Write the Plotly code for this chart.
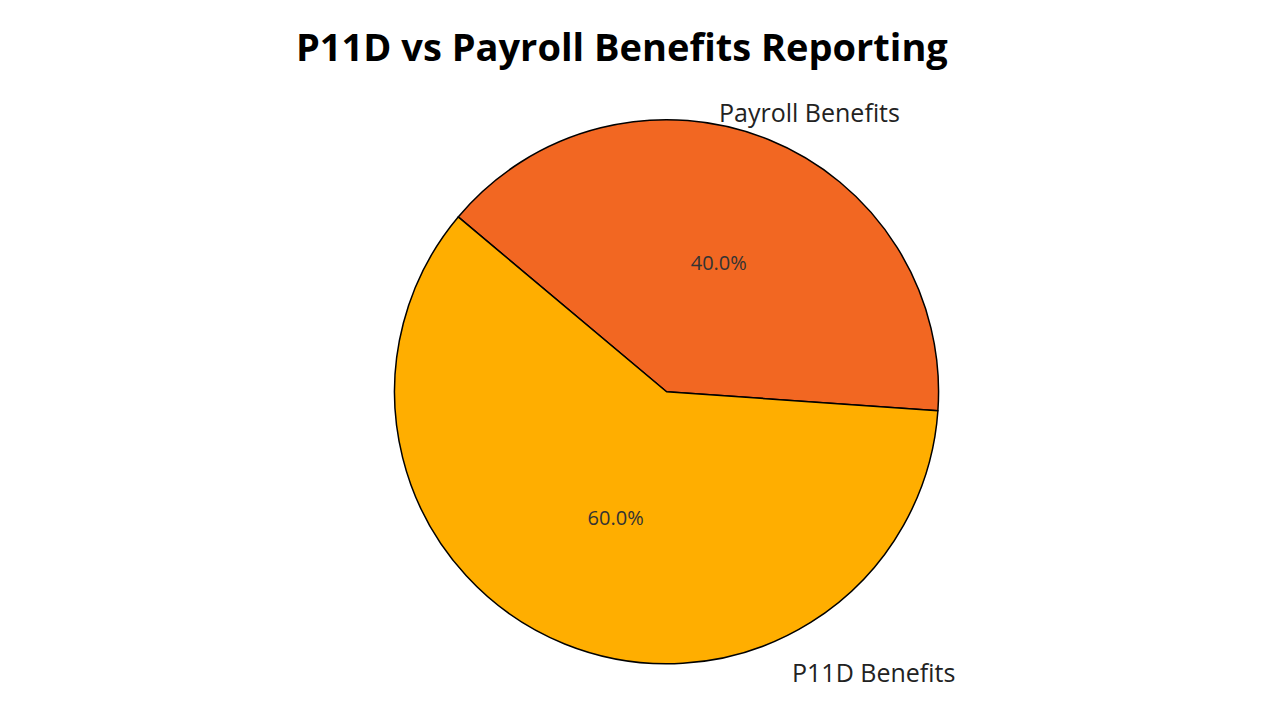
import plotly.graph_objects as go

labels = ["Payroll Benefits", "P11D Benefits"]
values = [40, 60]
colors = ["#F26722", "#FFAE00"]

dom = dict(x=[0.302, 0.727], y=[0.089, 0.845])
W, H = 1280, 720

def px(x, y):
    return dict(x=x / W, y=1 - y / H, xref="paper", yref="paper")

fig = go.Figure()
fig.add_trace(go.Pie(
    labels=labels, values=values, sort=False, direction="clockwise",
    rotation=-50, domain=dom,
    marker=dict(colors=colors, line=dict(color="black", width=1.5)),
    texttemplate="%{percent:.1%}", textposition="inside", insidetextorientation="horizontal",
    textfont=dict(size=20, color="#333333", family="Open Sans"),
    showlegend=False, hoverinfo="label+percent",
))
fig.update_layout(
    width=W, height=H,
    margin=dict(l=0, r=0, t=0, b=0),
    paper_bgcolor="white",
    annotations=[
        dict(text="<b>P11D vs Payroll Benefits Reporting</b>", **px(614, 38), showarrow=False,
             xanchor="center", yanchor="middle", font=dict(size=38, color="black", family="Open Sans")),
        dict(text=labels[0], **px(709, 104), showarrow=False, xanchor="left", yanchor="middle",
             font=dict(size=25, color="#222", family="Open Sans")),
        dict(text=labels[1], **px(782, 664), showarrow=False, xanchor="left", yanchor="middle",
             font=dict(size=25, color="#222", family="Open Sans")),
    ],
    xaxis=dict(visible=False), yaxis=dict(visible=False),
    plot_bgcolor="rgba(0,0,0,0)",
)
fig.write_html("out.html")
